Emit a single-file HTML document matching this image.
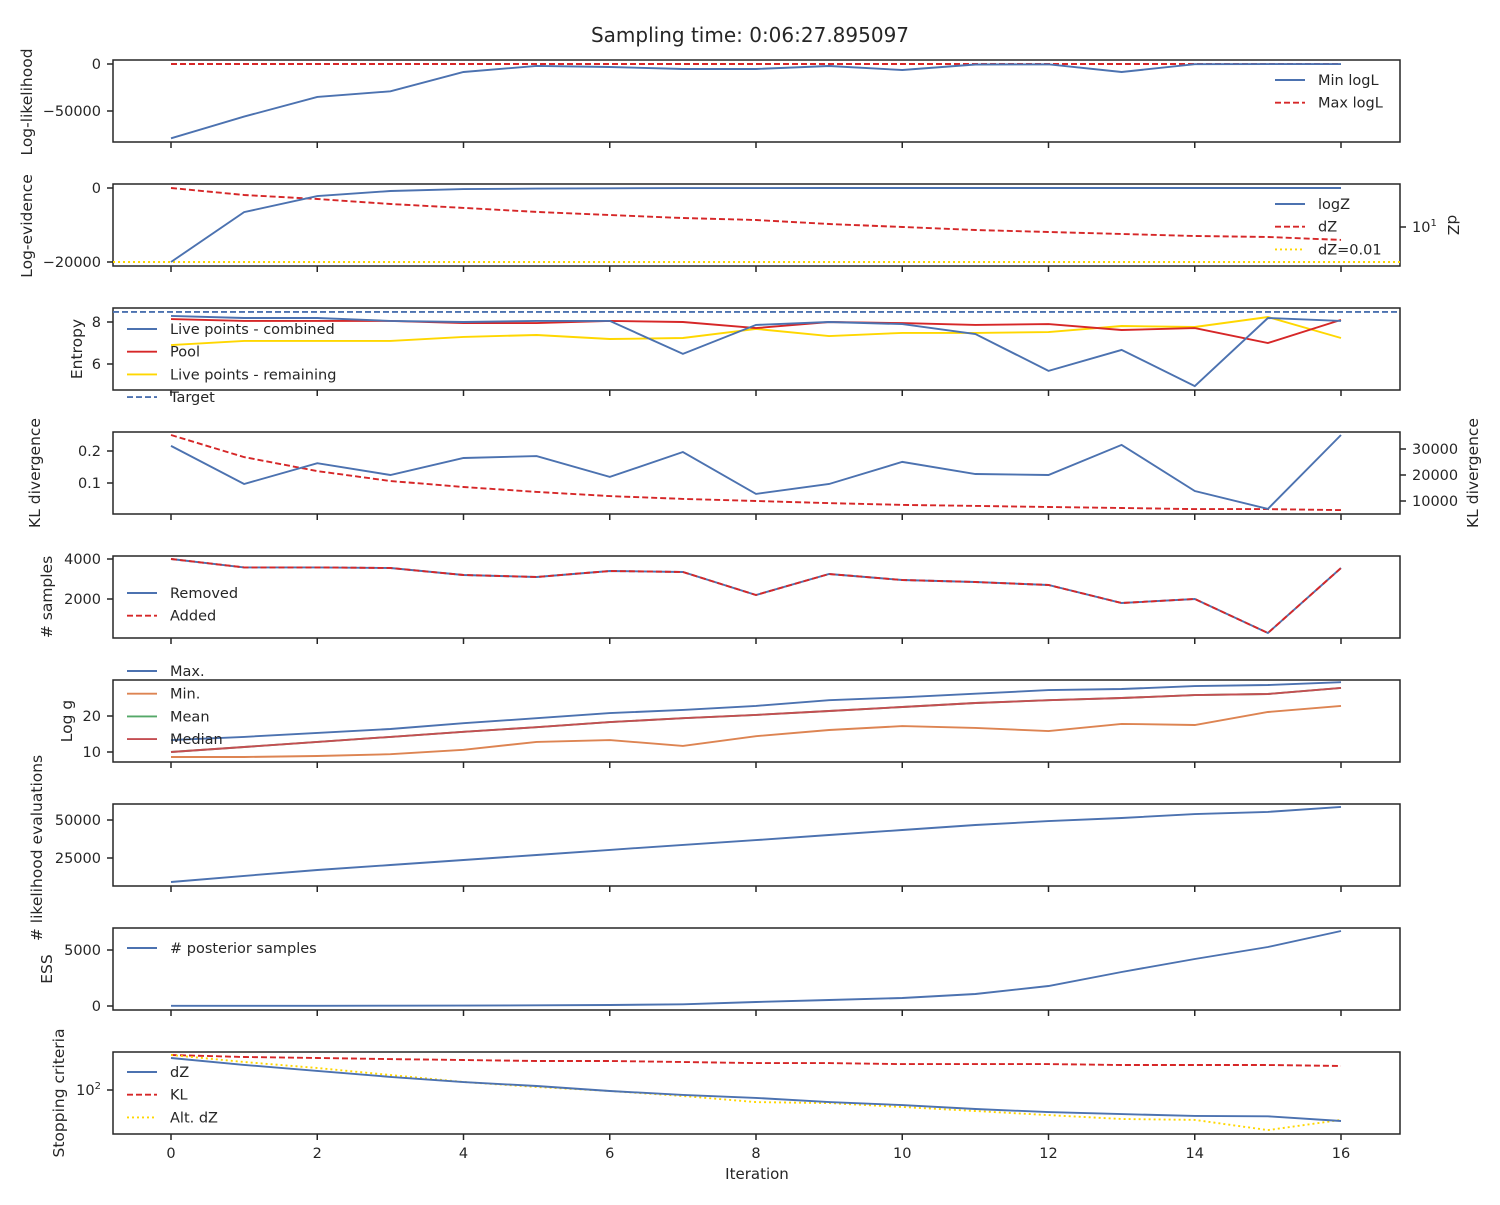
<!DOCTYPE html>
<html><head><meta charset="utf-8"><style>
body{margin:0;background:#fff}
svg text{font-family:"DejaVu Sans","Liberation Sans",sans-serif;fill:#262626}
</style></head><body>
<svg id="c" width="1500" height="1200" xmlns="http://www.w3.org/2000/svg">
<text x="750" y="42" font-size="20" text-anchor="middle">Sampling time: 0:06:27.895097</text>
<text x="757" y="1179" font-size="15" text-anchor="middle">Iteration</text>
</svg>
<script>
const iterations=[0,1,2,3,4,5,6,7,8,9,10,11,12,13,14,15,16];
const xTicks=[0,2,4,6,8,10,12,14,16];
const minLogL=[-79000,-56000,-35000,-29000,-8500,-2000,-3200,-5300,-5300,-2100,-6400,-500,-300,-8500,-200,-100,-100];
const maxLogL=[0,0,0,0,0,0,0,0,0,0,0,0,0,0,0,0,0];
const logZ=[-20000,-6500,-2200,-800,-300,-150,-80,-40,-20,-10,-5,-3,-2,-1,-1,0,0];
const dZ=[22000,5500,2500,930,430,195,107,59,40,18,10,5.5,3.7,2.5,1.7,1.4,0.78];
const dZThresh=0.01;
const entCombined=[8.29,8.19,8.19,8.05,8.0,8.05,8.05,6.48,7.86,8,7.9,7.43,5.67,6.67,4.95,8.19,8.05];
const entPool=[8.14,8.05,8.05,8.05,7.95,7.95,8.05,8.0,7.71,8,7.95,7.86,7.9,7.62,7.71,7.0,8.1];
const entRemaining=[6.9,7.1,7.1,7.1,7.29,7.38,7.19,7.24,7.67,7.33,7.48,7.48,7.52,7.81,7.76,8.24,7.24];
const entTarget=8.48;
const klLeft=[0.216,0.097,0.162,0.125,0.178,0.184,0.119,0.197,0.066,0.097,0.166,0.128,0.125,0.219,0.075,0.019,0.25];
const klRight=[35400,26900,21500,17700,15400,13500,11900,10800,10000,9200,8500,8100,7700,7300,6900,6900,6500];
const removed=[4000,3580,3580,3550,3200,3100,3400,3350,2200,3250,2950,2850,2700,1800,2000,300,3550];
const logGMax=[13.3,14.2,15.3,16.4,18.0,19.4,20.8,21.7,22.8,24.4,25.2,26.2,27.2,27.5,28.3,28.6,29.4];
const logGMin=[8.6,8.6,8.9,9.4,10.6,12.8,13.3,11.7,14.4,16.1,17.2,16.7,15.8,17.8,17.5,21.1,22.8];
const logGMedian=[10,11.4,12.8,14.2,15.6,16.9,18.3,19.4,20.3,21.4,22.5,23.6,24.4,25,25.8,26.1,27.8];
const nEval=[9200,13200,17100,20400,23700,27000,30300,33600,36800,40100,43400,46700,49300,51300,53900,55300,58600];
const ess=[20,20,20,30,40,60,90,150,360,540,710,1070,1790,3040,4200,5270,6700];
const stopDZ=[17800,5900,2200,830,360,190,85,45,28,14,8.7,4.6,2.8,2.0,1.5,1.4,0.66];
const stopKL=[29000,21000,17800,15100,12900,11000,11000,9300,7900,7900,6700,6700,6700,5800,5800,5800,4900];
const stopAltDZ=[29000,9300,3550,1140,365,163,85,38,14,12,6.3,3.3,1.7,0.91,0.78,0.15,0.78];

const svg=document.getElementById('c');
const NS='http://www.w3.org/2000/svg';
const X=i=>171+i*73.125;
const C={blue:'#4c72b0',red:'#d62728',gold:'#ffd700',orange:'#dd8452',green:'#55a868',med:'#c44e52'};
const SW=1.9;
function mk(tag,attrs,parent){const e=document.createElementNS(NS,tag);for(const k in attrs)e.setAttribute(k,attrs[k]);(parent||svg).appendChild(e);return e;}
function lin(v0,y0,v1,y1){return v=>y0+(v-v0)*(y1-y0)/(v1-v0);}
function logs(e0,y0,pxPerDec){return v=>y0-(Math.log10(v)-e0)*pxPerDec;}
function line(vals,ys,color,dash,name){
  const p=mk('polyline',{points:vals.map((v,i)=>X(iterations[i]).toFixed(1)+','+ys(v).toFixed(1)).join(' '),fill:'none',stroke:color,'stroke-width':SW,'stroke-dasharray':dash||'none'});
  
  
}
function hline(v,ys,color,dash,name){
  const p=mk('line',{x1:113,x2:1400,y1:ys(v),y2:ys(v),stroke:color,'stroke-width':SW,'stroke-dasharray':dash});
  
  
}
function frame(top,name,showLabels){
  const r=mk('rect',{x:113,y:top,width:1287,height:82,fill:'none',stroke:'#262626','stroke-width':1.5});
  
  
  xTicks.forEach(t=>{
    mk('line',{x1:X(t),x2:X(t),y1:top+82,y2:top+88,stroke:'#262626','stroke-width':1.5});
    if(showLabels){const tx=mk('text',{x:X(t),y:top+106,'font-size':14.5,'text-anchor':'middle'});tx.textContent=t;
      
      }
  });
}
function yticks(list,ys,right){
  list.forEach(([v,lab])=>{
    const y=ys(v);
    if(right){mk('line',{x1:1400,x2:1406,y1:y,y2:y,stroke:'#262626','stroke-width':1.5});}
    else mk('line',{x1:107,x2:113,y1:y,y2:y,stroke:'#262626','stroke-width':1.5});
    const t=mk('text',{x:right?1412:101,y:y+5,'font-size':14.5,'text-anchor':right?'start':'end'});
    if(lab.includes('^')){const [b,e]=lab.split('^');t.textContent=b;const s=mk('tspan',{dy:-6,'font-size':10},t);s.textContent=e;}
    else t.textContent=lab;
    
    
  });
}
function ylabel(txt,x,y,name,rot){
  const t=mk('text',{x:x,y:y,'font-size':15.5,'text-anchor':'middle',transform:`rotate(${rot||-90} ${x} ${y})`});
  t.textContent=txt;
  
  
}
function legend(x,y0,items,name){
  const g=mk('g',{});
  
  
  items.forEach(([lab,col,dash],k)=>{
    const y=y0+k*22.7;
    mk('line',{x1:x,x2:x+30,y1:y,y2:y,stroke:col,'stroke-width':SW,'stroke-dasharray':dash||'none'},g);
    const t=mk('text',{x:x+43,y:y+5,'font-size':14.5},g);t.textContent=lab;
  });
}
// Panel 1
let ys=lin(0,64,-50000,111);
frame(60,'loglikelihood-panel');
yticks([[0,'0'],[-50000,'−50000']],ys);
line(maxLogL,ys,C.red,'6,3','max-logl-line');
line(minLogL,ys,C.blue,null,'min-logl-line');
ylabel('Log-likelihood',32,102,'loglikelihood-y-title');
legend(1275,80,[['Min logL',C.blue],['Max logL',C.red,'6,3']],'loglikelihood-legend');
// Panel 2
ys=lin(0,188,-20000,262);
let yr=logs(1,227,11.67);
frame(184,'evidence-panel');
yticks([[0,'0'],[-20000,'−20000']],ys);
yticks([[10,'10^1']],yr,true);
hline(dZThresh,yr,C.gold,'2,3','dz-threshold-line');
line(dZ,yr,C.red,'6,3','dz-line');
line(logZ,ys,C.blue,null,'logz-line');
ylabel('Log-evidence',32,226,'evidence-y-title');
ylabel('dZ',1448,225,'dz-y-title',90);
legend(1275,204,[['logZ',C.blue],['dZ',C.red,'6,3'],['dZ=0.01',C.gold,'2,3']],'evidence-legend');
// Panel 3
ys=lin(8,322,6,364);
frame(308,'entropy-panel');
yticks([[8,'8'],[6,'6']],ys);
hline(entTarget,ys,C.blue,'6,3','entropy-target-line');
line(entRemaining,ys,C.gold,null,'entropy-remaining-line');
line(entPool,ys,C.red,null,'entropy-pool-line');
line(entCombined,ys,C.blue,null,'entropy-combined-line');
ylabel('Entropy',82,349,'entropy-y-title');
legend(127,329,[['Live points - combined',C.blue],['Pool',C.red],['Live points - remaining',C.gold],['Target',C.blue,'6,3']],'entropy-legend');
// Panel 4
ys=lin(0.2,451,0.1,483);
yr=lin(30000,449,10000,501);
frame(432,'kl-panel');
yticks([[0.2,'0.2'],[0.1,'0.1']],ys);
yticks([[30000,'30000'],[20000,'20000'],[10000,'10000']],yr,true);
line(klRight,yr,C.red,'6,3','kl-right-line');
line(klLeft,ys,C.blue,null,'kl-left-line');
ylabel('KL divergence',40,473,'kl-y-title');
ylabel('KL divergence',1478,473,'kl-right-y-title');
// Panel 5
ys=lin(4000,559,2000,599);
frame(556,'samples-panel');
yticks([[4000,'4000'],[2000,'2000']],ys);
line(removed,ys,C.blue,null,'removed-line');
line(removed,ys,C.red,'6,3','added-line');
ylabel('# samples',52,597,'samples-y-title');
legend(127,593,[['Removed',C.blue],['Added',C.red,'6,3']],'samples-legend');
// Panel 6
ys=lin(20,716,10,752);
frame(680,'logg-panel');
yticks([[20,'20'],[10,'10']],ys);
line(logGMax,ys,C.blue,null,'logg-max-line');
line(logGMin,ys,C.orange,null,'logg-min-line');
line(logGMedian,ys,C.green,null,'logg-mean-line');
line(logGMedian,ys,C.med,null,'logg-median-line');
ylabel('Log g',72,721,'logg-y-title');
legend(127,671,[['Max.',C.blue],['Min.',C.orange],['Mean',C.green],['Median',C.med]],'logg-legend');
// Panel 7
ys=lin(50000,820,25000,858);
frame(804,'evaluations-panel');
yticks([[50000,'50000'],[25000,'25000']],ys);
line(nEval,ys,C.blue,null,'evaluations-line');
ylabel('# likelihood evaluations',42,848,'evaluations-y-title');
// Panel 8
ys=lin(0,1006,5000,950);
frame(928,'ess-panel');
yticks([[5000,'5000'],[0,'0']],ys);
line(ess,ys,C.blue,null,'ess-line');
ylabel('ESS',52,969,'ess-y-title');
legend(127,948,[['# posterior samples',C.blue]],'ess-legend');
// Panel 9
ys=logs(2,1090,14.2);
frame(1052,'stopping-panel',true);
yticks([[100,'10^2']],ys);
line(stopKL,ys,C.red,'6,3','stop-kl-line');
line(stopAltDZ,ys,C.gold,'2,3','stop-altdz-line');
line(stopDZ,ys,C.blue,null,'stop-dz-line');
ylabel('Stopping criteria',64,1093,'stopping-y-title');
legend(127,1072,[['dZ',C.blue],['KL',C.red,'6,3'],['Alt. dZ',C.gold,'2,3']],'stopping-legend');
</script>
</body></html>
